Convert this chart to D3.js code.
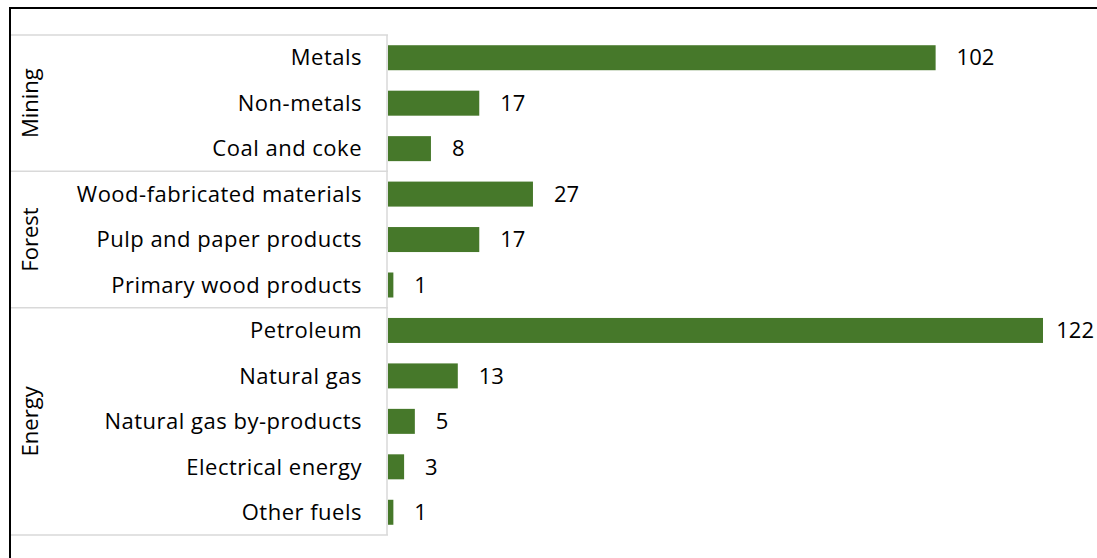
<!DOCTYPE html>
<html>
<head>
<meta charset="utf-8">
<script src="https://cdn.jsdelivr.net/npm/d3@7"></script>
<style>
  html, body { margin: 0; padding: 0; background: #fff; }
  svg text { font-family: "Open Sans", Lato, sans-serif; fill: #000; }
</style>
</head>
<body>
<div id="chart"></div>
<script>
// groups shown in the left column, top to bottom
var groups = ["Mining", "Forest", "Energy"];

var categories = [
    "Metals", "Non-metals", "Coal and coke",
    "Wood-fabricated materials", "Pulp and paper products", "Primary wood products",
    "Petroleum", "Natural gas", "Natural gas by-products", "Electrical energy", "Other fuels"
];

var categoryGroups = [
    "Mining", "Mining", "Mining",
    "Forest", "Forest", "Forest",
    "Energy", "Energy", "Energy", "Energy", "Energy"
];

var values = [102, 17, 8, 27, 17, 1, 122, 13, 5, 3, 1];

var width = 1097, height = 558;
var tableLeft = 10, tableRight = 388, tableTop = 35, tableBottom = 535;
var fontSize = 22;

var svg = d3.select("#chart").append("svg")
    .attr("width", width)
    .attr("height", height);

var y = d3.scaleBand()
    .domain(categories)
    .range([tableTop, tableBottom])
    .paddingInner(0.45)
    .paddingOuter(0.225);

var x = d3.scaleLinear()
    .domain([0, d3.max(values)])
    .range([tableRight, 1043]);

var data = categories.map(function(c, i) {
    return { name: c, group: categoryGroups[i], value: values[i] };
});

// category table lines
var grid = svg.append("g").attr("class", "table")
    .attr("stroke", "#d9d9d9").attr("stroke-width", 1.5);

var step = y.step();
var bounds = [];
groups.forEach(function(g) {
    var rows = data.filter(function(d) { return d.group === g; });
    var top = y(rows[0].name) - (step - y.bandwidth()) / 2;
    var bottom = y(rows[rows.length - 1].name) + y.bandwidth() + (step - y.bandwidth()) / 2;
    bounds.push({ group: g, top: top, bottom: bottom });
});

var edges = [tableTop].concat(bounds.map(function(b) { return b.bottom; }));
grid.selectAll("line.h")
    .data(edges)
    .enter().append("line")
    .attr("class", "h")
    .attr("x1", tableLeft).attr("x2", tableRight)
    .attr("y1", function(d) { return d; })
    .attr("y2", function(d) { return d; });

grid.append("line")
    .attr("x1", tableRight - 1).attr("x2", tableRight - 1)
    .attr("y1", tableTop).attr("y2", tableBottom);

// outer frame (top and left only)
svg.append("line")
    .attr("x1", tableLeft).attr("x2", width)
    .attr("y1", 8).attr("y2", 8)
    .attr("stroke", "#000").attr("stroke-width", 2);
svg.append("line")
    .attr("x1", tableLeft).attr("x2", tableLeft)
    .attr("y1", 7).attr("y2", height)
    .attr("stroke", "#000").attr("stroke-width", 2);

// group labels
svg.selectAll("text.group")
    .data(bounds)
    .enter().append("text")
    .attr("class", "group")
    .attr("text-anchor", "middle")
    .attr("font-size", fontSize)
    .attr("transform", function(d) {
        return "translate(38," + ((d.top + d.bottom) / 2) + ") rotate(-90)";
    })
    .text(function(d) { return d.group; });

// category labels
svg.selectAll("text.cat")
    .data(data)
    .enter().append("text")
    .attr("class", "cat")
    .attr("text-anchor", "end")
    .attr("font-size", fontSize)
    .attr("letter-spacing", 0.5)
    .attr("x", 362)
    .attr("y", function(d) { return y(d.name) + y.bandwidth() / 2; })
    .attr("dy", "0.35em")
    .text(function(d) { return d.name; });

// bars
svg.append("g").attr("class", "plot")
    .selectAll("rect")
    .data(data)
    .enter().append("rect")
    .attr("x", x(0))
    .attr("y", function(d) { return y(d.name); })
    .attr("width", function(d) { return x(d.value) - x(0); })
    .attr("height", y.bandwidth())
    .attr("fill", "#46782a");

// value labels
svg.selectAll("text.val")
    .data(data)
    .enter().append("text")
    .attr("class", "val")
    .attr("font-size", fontSize)
    .attr("y", function(d) { return y(d.name) + y.bandwidth() / 2; })
    .attr("dy", "0.35em")
    .text(function(d) { return d.value; })
    .attr("x", function(d) {
        var w = this.getComputedTextLength();
        var px = x(d.value) + 21;
        return Math.min(px, width - 3 - w);
    });
</script>
</body>
</html>
